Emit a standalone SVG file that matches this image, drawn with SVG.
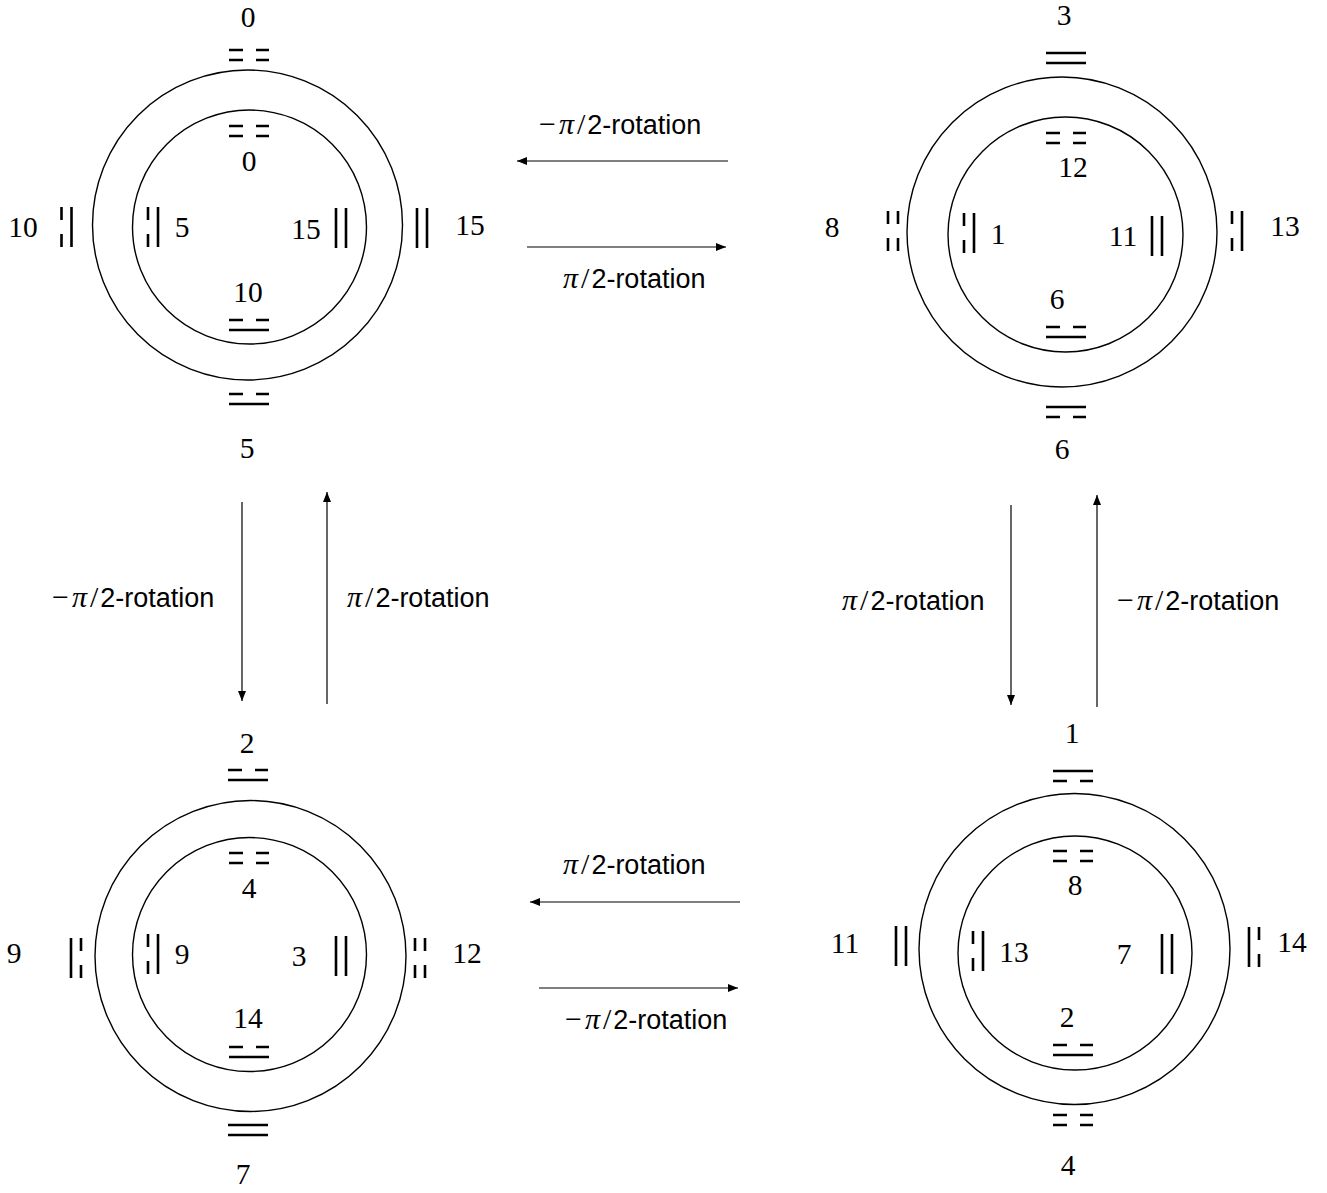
<svg xmlns="http://www.w3.org/2000/svg" xmlns:xlink="http://www.w3.org/1999/xlink" width="1327" height="1193" viewBox="0 0 1327 1193">
<style>
.ring{fill:none;stroke:#000;stroke-width:1.4}
.sym{stroke:#000;stroke-width:2.6;fill:none}
.num{font-family:"Liberation Serif","DejaVu Serif",serif;font-size:29.5px;fill:#000;text-anchor:middle}
.rl{font-family:"Liberation Sans","DejaVu Sans",sans-serif;font-size:27px;fill:#000}
.m{font-family:"Liberation Serif","DejaVu Serif",serif;font-size:30px}
.i{font-style:italic}
.conn{stroke:#000;stroke-width:1.2;fill:none;marker-end:url(#ah)}
</style>
<defs>
<marker id="ah" markerUnits="userSpaceOnUse" markerWidth="11" markerHeight="8" refX="10" refY="4" orient="auto">
<path d="M0,0 L10,4 L0,8 z" fill="#000"/>
</marker>
<g id="hSS" class="sym"><path d="M0,0 h40 M0,10 h40"/></g>
<g id="hBB" class="sym"><path d="M0,0 h14 M27,0 h13 M0,10 h14 M27,10 h13"/></g>
<g id="hBS" class="sym"><path d="M0,0 h14 M27,0 h13 M0,10 h40"/></g>
<g id="hSB" class="sym"><path d="M0,0 h40 M0,10 h14 M27,10 h13"/></g>
<g id="vSS" class="sym"><path d="M0,0 v40 M10,0 v40"/></g>
<g id="vBB" class="sym"><path d="M0,0 v13 M0,27 v13 M10,0 v13 M10,27 v13"/></g>
<g id="vBS" class="sym"><path d="M0,0 v13 M0,27 v13 M10,0 v40"/></g>
<g id="vSB" class="sym"><path d="M0,0 v40 M10,0 v13 M10,27 v13"/></g>
</defs>
<rect width="1327" height="1193" fill="#fff"/>

<g id="node-top-left">
<circle class="ring" cx="247.5" cy="225" r="155"/>
<circle class="ring" cx="249.5" cy="227" r="117"/>
<use href="#hBB" x="229" y="50"/>
<use href="#hBB" x="229" y="126"/>
<use href="#vBS" x="61.5" y="207"/>
<use href="#vBS" x="148" y="207"/>
<use href="#vSS" x="336" y="208"/>
<use href="#vSS" x="417" y="208"/>
<use href="#hBS" x="229" y="320"/>
<use href="#hBS" x="229" y="394"/>
<text class="num" x="248" y="27">0</text>
<text class="num" x="249" y="171">0</text>
<text class="num" x="23" y="237">10</text>
<text class="num" x="182" y="237">5</text>
<text class="num" x="306" y="239">15</text>
<text class="num" x="470" y="235">15</text>
<text class="num" x="248" y="302">10</text>
<text class="num" x="247" y="458">5</text>
</g>

<g id="node-top-right">
<circle class="ring" cx="1062" cy="232" r="155"/>
<circle class="ring" cx="1065.5" cy="234.5" r="117.5"/>
<use href="#hSS" x="1046" y="53"/>
<use href="#hBB" x="1046" y="133"/>
<use href="#vBB" x="888" y="211"/>
<use href="#vBS" x="964" y="213"/>
<use href="#vSS" x="1152" y="216"/>
<use href="#vBS" x="1232" y="211"/>
<use href="#hBS" x="1046" y="327"/>
<use href="#hSB" x="1046" y="407"/>
<text class="num" x="1064" y="25">3</text>
<text class="num" x="1073" y="177">12</text>
<text class="num" x="832" y="237">8</text>
<text class="num" x="998" y="244">1</text>
<text class="num" x="1123" y="246">11</text>
<text class="num" x="1285" y="236">13</text>
<text class="num" x="1057" y="309">6</text>
<text class="num" x="1062" y="459">6</text>
</g>

<g id="node-bottom-left">
<circle class="ring" cx="250.5" cy="956" r="155.5"/>
<circle class="ring" cx="249.5" cy="954.5" r="117"/>
<use href="#hBS" x="228" y="770"/>
<use href="#hBB" x="229" y="853"/>
<use href="#vSB" x="71" y="938"/>
<use href="#vBS" x="148" y="934"/>
<use href="#vSS" x="336" y="936"/>
<use href="#vBB" x="415" y="938"/>
<use href="#hBS" x="229" y="1047"/>
<use href="#hSS" x="228" y="1125"/>
<text class="num" x="247" y="753">2</text>
<text class="num" x="249" y="898">4</text>
<text class="num" x="14" y="963">9</text>
<text class="num" x="182" y="964">9</text>
<text class="num" x="299" y="966">3</text>
<text class="num" x="467" y="963">12</text>
<text class="num" x="248" y="1028">14</text>
<text class="num" x="243" y="1184">7</text>
</g>

<g id="node-bottom-right">
<circle class="ring" cx="1074.5" cy="949" r="155.5"/>
<circle class="ring" cx="1075" cy="953" r="117"/>
<use href="#hSB" x="1053" y="771"/>
<use href="#hBB" x="1053" y="851"/>
<use href="#vSS" x="896" y="926"/>
<use href="#vBS" x="973" y="931"/>
<use href="#vSS" x="1162" y="934"/>
<use href="#vSB" x="1249" y="927"/>
<use href="#hBS" x="1053" y="1045"/>
<use href="#hBB" x="1053" y="1115"/>
<text class="num" x="1072" y="743">1</text>
<text class="num" x="1075" y="895">8</text>
<text class="num" x="845" y="953">11</text>
<text class="num" x="1014" y="962">13</text>
<text class="num" x="1124" y="964">7</text>
<text class="num" x="1292" y="952">14</text>
<text class="num" x="1067" y="1027">2</text>
<text class="num" x="1068" y="1175">4</text>
</g>

<g id="connectors">
<line class="conn" x1="728" y1="161" x2="517" y2="161"/>
<line class="conn" x1="527" y1="247" x2="726" y2="247"/>
<line class="conn" x1="242" y1="502" x2="242" y2="701"/>
<line class="conn" x1="327" y1="704" x2="327" y2="492"/>
<line class="conn" x1="1011" y1="505" x2="1011" y2="705"/>
<line class="conn" x1="1097" y1="707" x2="1097" y2="495"/>
<line class="conn" x1="740" y1="902" x2="530" y2="902"/>
<line class="conn" x1="539" y1="988" x2="738" y2="988"/>
<text class="rl" x="539" y="134"><tspan class="m">−</tspan><tspan class="m i" dx="3">π</tspan><tspan class="m" dx="3">/</tspan><tspan dx="2">2-rotation</tspan></text>
<text class="rl" x="563" y="288"><tspan class="m i">π</tspan><tspan class="m" dx="3">/</tspan><tspan dx="2">2-rotation</tspan></text>
<text class="rl" x="52" y="607"><tspan class="m">−</tspan><tspan class="m i" dx="3">π</tspan><tspan class="m" dx="3">/</tspan><tspan dx="2">2-rotation</tspan></text>
<text class="rl" x="347" y="607"><tspan class="m i">π</tspan><tspan class="m" dx="3">/</tspan><tspan dx="2">2-rotation</tspan></text>
<text class="rl" x="842" y="610"><tspan class="m i">π</tspan><tspan class="m" dx="3">/</tspan><tspan dx="2">2-rotation</tspan></text>
<text class="rl" x="1117" y="610"><tspan class="m">−</tspan><tspan class="m i" dx="3">π</tspan><tspan class="m" dx="3">/</tspan><tspan dx="2">2-rotation</tspan></text>
<text class="rl" x="563" y="874"><tspan class="m i">π</tspan><tspan class="m" dx="3">/</tspan><tspan dx="2">2-rotation</tspan></text>
<text class="rl" x="565" y="1029"><tspan class="m">−</tspan><tspan class="m i" dx="3">π</tspan><tspan class="m" dx="3">/</tspan><tspan dx="2">2-rotation</tspan></text>
</g>
</svg>
